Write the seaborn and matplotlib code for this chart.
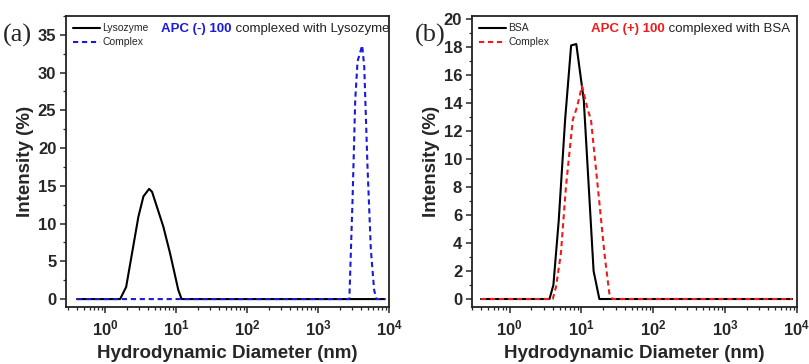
import matplotlib
matplotlib.use("Agg")
import math
import matplotlib.pyplot as plt
import matplotlib.ticker as mticker
import pandas as pd
import seaborn as sns

# panel (a): lysozyme vs complex (hydrodynamic diameter in nm, intensity in %)
lyso_d = [0.4, 1.62, 1.97, 2.93, 3.45, 4.15, 4.57, 6.58, 8.17, 10.7, 11.9, 8700]
lyso_i = [0, 0, 1.6, 10.9, 13.6, 14.6, 14.2, 9.6, 6.1, 1.2, 0, 0]
cplx_a_d = [0.4, 2750, 3050, 3330, 3590, 4170, 4460, 4960, 5530, 6150, 6640, 8700]
cplx_a_i = [0, 0, 13.1, 26.4, 31.5, 33.6, 30.8, 17.5, 6.5, 1.2, 0, 0]

# panel (b): BSA vs complex
bsa_d = [0.4, 3.6, 4.08, 4.84, 5.94, 7.2, 8.5, 10.8, 14.8, 17.8, 8600]
bsa_i = [0, 0, 1.0, 5.6, 12.8, 18.1, 18.2, 14.2, 2.0, 0, 0]
cplx_b_d = [0.4, 4.0, 4.45, 5.2, 6.1, 7.6, 8.7, 10.2, 12.3, 13.6, 17.8, 20.9, 24.5, 27.2, 8600]
cplx_b_i = [0, 0, 0.9, 3.3, 8.0, 12.8, 13.7, 15.2, 13.5, 12.8, 6.9, 3.3, 0.4, 0, 0]

sns.set_style("ticks")
plt.rcParams['font.family'] = ['Liberation Sans', 'DejaVu Sans']
plt.rcParams['mathtext.fontset'] = 'custom'
plt.rcParams['mathtext.bf'] = 'Liberation Sans:bold'
plt.rcParams['mathtext.rm'] = 'Liberation Sans'

fig = plt.figure(figsize=(8.09, 3.64), dpi=100)
ax1 = fig.add_axes([0.0816, 0.1566, 0.3994, 0.7994])
ax2 = fig.add_axes([0.5834, 0.1566, 0.4016, 0.7994])


def draw(ax, d1, i1, n1, d2, i2, c2):
    df1 = pd.DataFrame({'d': d1, 'i': i1})
    df2 = pd.DataFrame({'d': d2, 'i': i2})
    sns.lineplot(data=df1, x='d', y='i', ax=ax, color='black', lw=1.5, label=n1)
    sns.lineplot(data=df2, x='d', y='i', ax=ax, color=c2, lw=1.5, label='Complex')
    ax.lines[-1].set_dashes([2.5, 1.8])
    ax.set_xscale('log')
    ax.xaxis.set_major_locator(mticker.LogLocator(base=10, numticks=10))
    ax.xaxis.set_minor_locator(mticker.LogLocator(base=10, subs=range(2, 10), numticks=10))
    ax.xaxis.set_major_formatter(mticker.FuncFormatter(
        lambda v, p: r'$\mathbf{10^{%d}}$' % round(math.log10(v))))
    ax.xaxis.set_minor_formatter(mticker.NullFormatter())
    for s in ax.spines.values():
        s.set_visible(True)
        s.set_linewidth(1.3)
        s.set_color('#222222')
    ax.tick_params(which='major', direction='out', length=4, width=1.1, labelsize=12, pad=3)
    ax.tick_params(axis='x', which='major', labelsize=12, pad=4)
    ax.tick_params(which='minor', direction='out', length=2.2, width=0.9)
    ax.set_xlabel('Hydrodynamic Diameter (nm)', fontsize=13.5, fontweight='bold', labelpad=5)
    ax.set_ylabel('Intensity (%)', fontsize=13.5, fontweight='bold', labelpad=3)
    leg = ax.legend(loc='upper left', frameon=False, fontsize=7.5, handlelength=2.6,
                    handletextpad=0.2, labelspacing=0.4, borderaxespad=0.6,
                    borderpad=0.1)
    for h in leg.get_lines():
        h.set_linewidth(1.5)


draw(ax1, lyso_d, lyso_i, 'Lysozyme', cplx_a_d, cplx_a_i, '#1a1adb')
ax1.set_xlim(0.28, 1.0e4)
ax1.set_ylim(-1.05, 37.5)
ax1.yaxis.set_major_locator(mticker.MultipleLocator(5))
ax1.yaxis.set_minor_locator(mticker.MultipleLocator(2.5))

draw(ax2, bsa_d, bsa_i, 'BSA', cplx_b_d, cplx_b_i, '#ee1c1c')
ax2.set_xlim(0.3, 1.0e4)
ax2.set_ylim(-0.57, 20.2)
ax2.yaxis.set_major_locator(mticker.MultipleLocator(2))
ax2.yaxis.set_minor_locator(mticker.MultipleLocator(1))

for ax in (ax1, ax2):
    for lab in ax.get_yticklabels():
        lab.set_fontweight('bold')

# coloured annotations
t1 = ax1.text(0.294, 0.945, 'APC (-) 100', transform=ax1.transAxes, color='#1a1adb',
              fontsize=9.5, fontweight='bold', va='baseline')
ax1.annotate(' complexed with Lysozyme', xy=(1, 0), xycoords=t1, va='bottom',
             fontsize=9.5, color='#222222')
t2 = ax2.text(0.366, 0.945, 'APC (+) 100', transform=ax2.transAxes, color='#ee1c1c',
              fontsize=9.5, fontweight='bold', va='baseline')
ax2.annotate(' complexed with BSA', xy=(1, 0), xycoords=t2, va='bottom',
             fontsize=9.5, color='#222222')

fig.text(0.003, 0.885, '(a)', fontsize=19, family='Liberation Serif')
fig.text(0.513, 0.885, '(b)', fontsize=19, family='Liberation Serif')

fig.savefig('out.png', dpi=100)
